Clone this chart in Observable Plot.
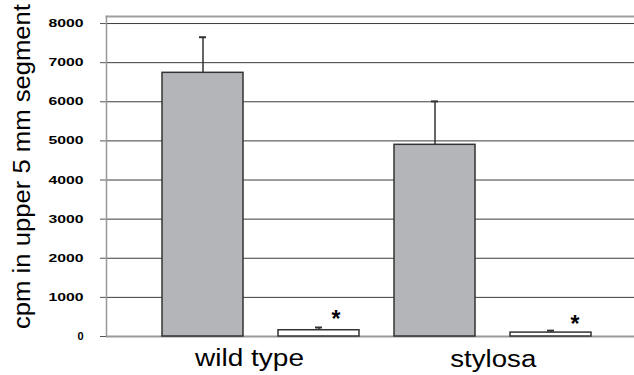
<!DOCTYPE html>
<html>
<head>
<meta charset="utf-8">
<script src="https://cdn.jsdelivr.net/npm/d3@7"></script>
<script src="https://cdn.jsdelivr.net/npm/@observablehq/plot@0.6"></script>
<style>
  html, body { margin: 0; padding: 0; background: #fff; }
  #chart { width: 634px; height: 375px; }
</style>
</head>
<body>
<div id="chart"></div>
<script>
// ---- data ----
const groups = ["wild type", "stylosa"];
const seriesNames = ["series 1", "series 2"];
const meansWildType = [6740, 160];
const meansStylosa = [4900, 100];
const errWildType = [910, 70];
const errStylosa = [1110, 50];
const significant = [false, true];
const yTicks = [0, 1000, 2000, 3000, 4000, 5000, 6000, 7000, 8000];
const yLabel = "cpm in upper 5 mm segment";
const starText = "*";

const means = [meansWildType, meansStylosa];
const errs = [errWildType, errStylosa];
const rows = [];
groups.forEach((g, gi) => seriesNames.forEach((s, si) => rows.push({
  group: g, series: s, key: g + "|" + s,
  mean: means[gi][si], top: means[gi][si] + errs[gi][si], star: significant[si]
})));
const keys = rows.map(d => d.key);

const ink = "#333";
const plot = Plot.plot({
  width: 634, height: 375,
  marginLeft: 106, marginRight: 0, marginTop: 16, marginBottom: 39,
  style: { fontFamily: "'Liberation Sans', Arial, sans-serif", background: "#fff", color: "#000" },
  x: { type: "band", domain: keys, paddingInner: 0.305, paddingOuter: 0, insetLeft: 55, insetRight: 42.5, axis: null },
  y: { domain: [0, 8180], axis: null },
  color: { domain: seriesNames, range: ["#b4b5b9", "#ffffff"] },
  marks: [
    Plot.gridY(yTicks.filter(v => v > 0), { stroke: "#3c3c3c", strokeOpacity: 1, strokeWidth: 1 }),
    Plot.axisY(yTicks, { tickSize: 6, tickPadding: 17, fontWeight: "bold", fontSize: 11, stroke: "#555", label: null, tickFormat: d => String(d) }),
    Plot.ruleY([0], { stroke: "#9a9a9a", strokeWidth: 2 }),
    Plot.frame({ anchor: "top", stroke: "#a0a0a0", strokeWidth: 2 }),
    Plot.frame({ anchor: "left", stroke: "#999", strokeWidth: 1.5 }),
    Plot.barY(rows, { x: "key", y: "mean", fill: "series", stroke: ink, strokeWidth: 1.5 }),
    Plot.ruleX(rows, { x: "key", y1: "mean", y2: "top", stroke: ink, strokeWidth: 1.5 }),
    Plot.tickY(rows, { x: "key", y: "top", stroke: ink, strokeWidth: 2, insetLeft: 37, insetRight: 37 }),
    Plot.text(rows.filter(d => d.star && d.group === groups[0]), { x: "key", y: "top", text: () => starText, dx: 17, dy: -8, fontSize: 23, fontWeight: "bold" }),
    Plot.text(rows.filter(d => d.star && d.group === groups[1]), { x: "key", y: "top", text: () => starText, dx: 24, dy: -6, fontSize: 23, fontWeight: "bold" }),
    Plot.text([groups[0]], { x: g => g + "|" + seriesNames[0], text: d => d, frameAnchor: "bottom", dx: 46.5, dy: 22, fontSize: 23, lineAnchor: "middle" }),
    Plot.text([groups[1]], { x: g => g + "|" + seriesNames[0], text: d => d, frameAnchor: "bottom", dx: 58.3, dy: 23, fontSize: 23, lineAnchor: "middle" }),
    Plot.text([yLabel], { frameAnchor: "left", text: d => d, rotate: -90, dx: -84, dy: -10, fontSize: 23, textAnchor: "middle", lineAnchor: "middle" })
  ]
});
document.getElementById("chart").appendChild(plot);

// stretch text horizontally as in the reference
const widths = { "cpm in upper 5 mm segment": 325, "wild type": 109, "stylosa": 86 };
d3.select(plot).selectAll("text").each(function () {
  const t = this.textContent;
  if (widths[t]) {
    this.setAttribute("textLength", widths[t]);
    this.setAttribute("lengthAdjust", "spacingAndGlyphs");
  } else if (/^\d{4}$/.test(t)) {
    this.setAttribute("textLength", 35);
    this.setAttribute("lengthAdjust", "spacingAndGlyphs");
  }
});
</script>
</body>
</html>
